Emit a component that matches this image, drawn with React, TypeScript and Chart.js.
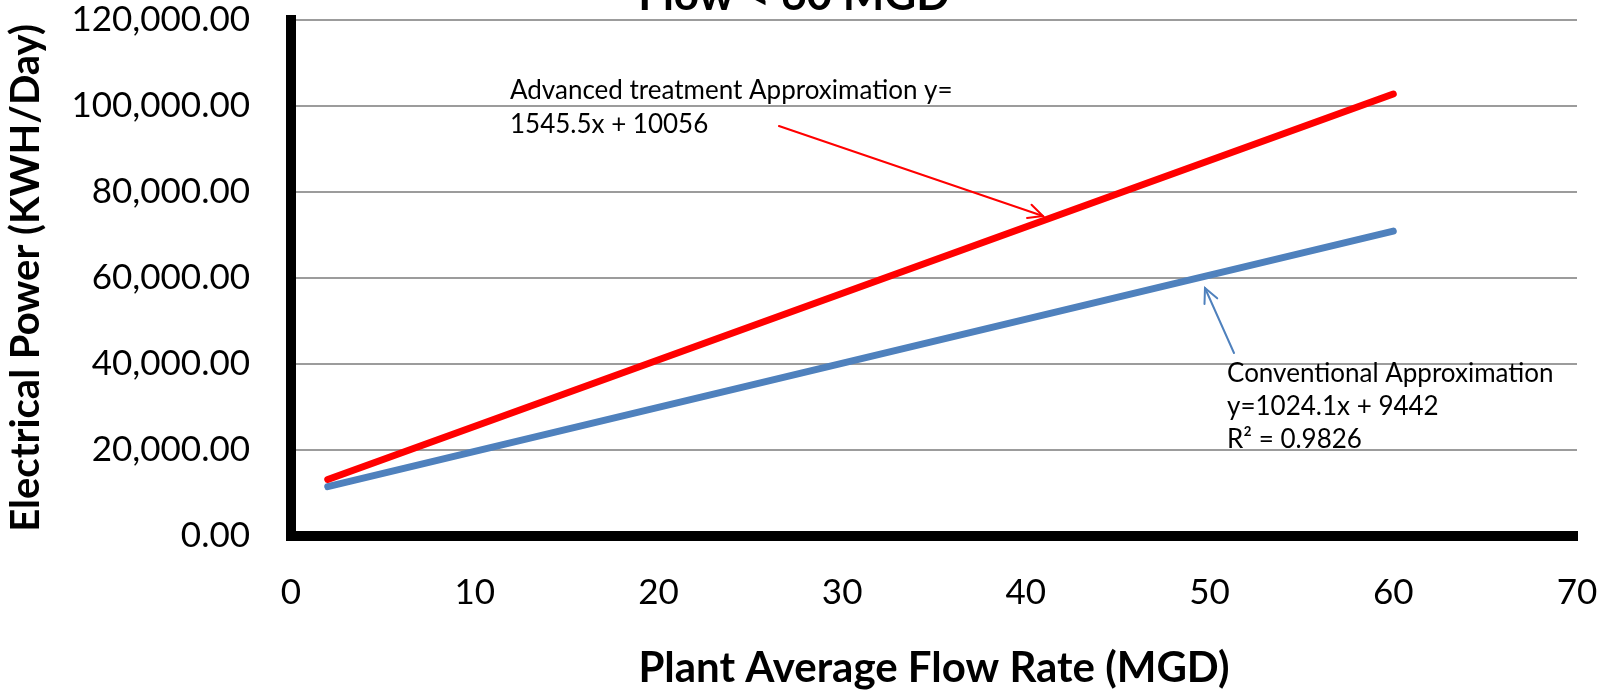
import React, { useEffect, useRef } from "react";
import { Chart, registerables } from "chart.js";

Chart.register(...registerables);

// ---- data ----
const flowMGD = [2, 60];
const advancedKWH = [13150, 102790];
const conventionalKWH = [11490, 70890];
const xTickValues = [0, 10, 20, 30, 40, 50, 60, 70];
const yTickLabels = ["0.00", "20,000.00", "40,000.00", "60,000.00", "80,000.00", "100,000.00", "120,000.00"];
const chartTitle = "Flow < 60 MGD";
const xAxisTitle = "Plant Average Flow Rate (MGD)";
const yAxisTitle = "Electrical Power (KWH/Day)";
const advancedLabel = ["Advanced treatment Approximation y=", "1545.5x + 10056"];
const conventionalLabel = ["Conventional Approximation", "y=1024.1x + 9442", "R² = 0.9826"];

const FONT = "Lato, 'Open Sans', sans-serif";

function drawArrow(ctx: CanvasRenderingContext2D, x1: number, y1: number, x2: number, y2: number, color: string) {
  ctx.strokeStyle = color;
  ctx.lineWidth = 2;
  ctx.lineCap = "round";
  ctx.beginPath();
  ctx.moveTo(x1, y1);
  ctx.lineTo(x2, y2);
  ctx.stroke();
  const ang = Math.atan2(y2 - y1, x2 - x1);
  const len = 16;
  const spread = 0.45;
  ctx.beginPath();
  ctx.moveTo(x2 - len * Math.cos(ang - spread), y2 - len * Math.sin(ang - spread));
  ctx.lineTo(x2, y2);
  ctx.lineTo(x2 - len * Math.cos(ang + spread), y2 - len * Math.sin(ang + spread));
  ctx.stroke();
}

const annotationPlugin = {
  id: "annotationsAndTitle",
  afterDraw(chart: any) {
    const { ctx, scales } = chart;
    const xs = scales.x;
    const ys = scales.y;
    const px = (v: number) => xs.getPixelForValue(v);
    const py = (v: number) => ys.getPixelForValue(v);
    ctx.save();
    // chart title (cut off at top)
    ctx.font = `bold 44px ${FONT}`;
    ctx.fillStyle = "#000";
    ctx.textAlign = "center";
    ctx.textBaseline = "alphabetic";
    ctx.fillText(chartTitle, 794, 10);

    // advanced annotation
    ctx.font = `26px ${FONT}`;
    ctx.textAlign = "left";
    ctx.fillStyle = "#000";
    ctx.fillText(advancedLabel[0], px(11.92), py(101630));
    ctx.fillText(advancedLabel[1], px(11.92), py(93720));
    drawArrow(ctx, px(26.56), py(95350), px(40.93), py(74420), "#FF0000");

    // conventional annotation
    ctx.fillStyle = "#000";
    ctx.fillText(conventionalLabel[0], px(50.95), py(35810));
    ctx.fillText(conventionalLabel[1], px(50.95), py(28140));
    ctx.fillText(conventionalLabel[2], px(50.95), py(20470));
    drawArrow(ctx, px(51.33), py(42560), px(49.75), py(57670), "#4F81BD");
    ctx.restore();
  },
};

export default function App() {
  const ref = useRef<HTMLCanvasElement | null>(null);
  useEffect(() => {
    document.body.style.margin = "0";
    const canvas = ref.current;
    if (!canvas) return;
    const chart = new Chart(canvas, {
      type: "line",
      data: {
        datasets: [
          {
            label: "Advanced treatment",
            data: flowMGD.map((x, i) => ({ x, y: advancedKWH[i] })),
            borderColor: "#FF0000",
            borderWidth: 7,
            borderCapStyle: "round",
            pointRadius: 0,
            tension: 0,
            fill: false,
          },
          {
            label: "Conventional",
            data: flowMGD.map((x, i) => ({ x, y: conventionalKWH[i] })),
            borderColor: "#4F81BD",
            borderWidth: 7,
            borderCapStyle: "round",
            pointRadius: 0,
            tension: 0,
            fill: false,
          },
        ],
      },
      options: {
        animation: false,
        responsive: false,
        layout: { padding: { top: 20, right: 23, left: 0, bottom: 0 } },
        plugins: {
          legend: { display: false },
          title: { display: false },
          tooltip: { enabled: false },
        },
        scales: {
          x: {
            type: "linear",
            min: 0,
            max: 70,
            afterBuildTicks: (scale: any) => {
              scale.ticks = xTickValues.map((v) => ({ value: v }));
            },
            afterFit: (scale: any) => {
              scale.height = 158;
              scale.paddingLeft = 0;
              scale.paddingRight = 0;
            },
            grid: { color: "rgba(0,0,0,0)", drawTicks: false },
            border: { display: true, color: "#000", width: 10 },
            ticks: {
              padding: 36,
              color: "#000",
              font: { family: FONT, size: 35 },
              callback: (v: any) => String(v),
              maxRotation: 0,
            },
            title: {
              display: true,
              text: xAxisTitle,
              color: "#000",
              font: { family: FONT, size: 42, weight: "bold" },
              padding: { top: 0, bottom: 0 },
            },
          },
          y: {
            type: "linear",
            min: 0,
            max: 120000,
            ticks: {
              stepSize: 20000,
              padding: 41,
              color: "#000",
              font: { family: FONT, size: 35 },
              callback: (_v: any, i: number) => yTickLabels[i],
            },
            afterFit: (scale: any) => {
              scale.width = 291;
              scale.paddingTop = 0;
              scale.paddingBottom = 0;
            },
            grid: { color: "#9C9C9C", lineWidth: 2, drawTicks: false },
            border: { display: true, color: "#000", width: 10 },
            title: {
              display: true,
              text: yAxisTitle,
              color: "#000",
              font: { family: FONT, size: 40, weight: "bold" },
              padding: { top: 2, bottom: 0 },
            },
          },
        },
      },
      plugins: [annotationPlugin],
    } as any);
    return () => chart.destroy();
  }, []);
  return (
    <div style={{ position: "absolute", left: 0, top: 0, width: 1600, height: 694, background: "#fff" }}>
      <canvas ref={ref} width={1600} height={694} style={{ width: 1600, height: 694, display: "block" }} />
    </div>
  );
}
